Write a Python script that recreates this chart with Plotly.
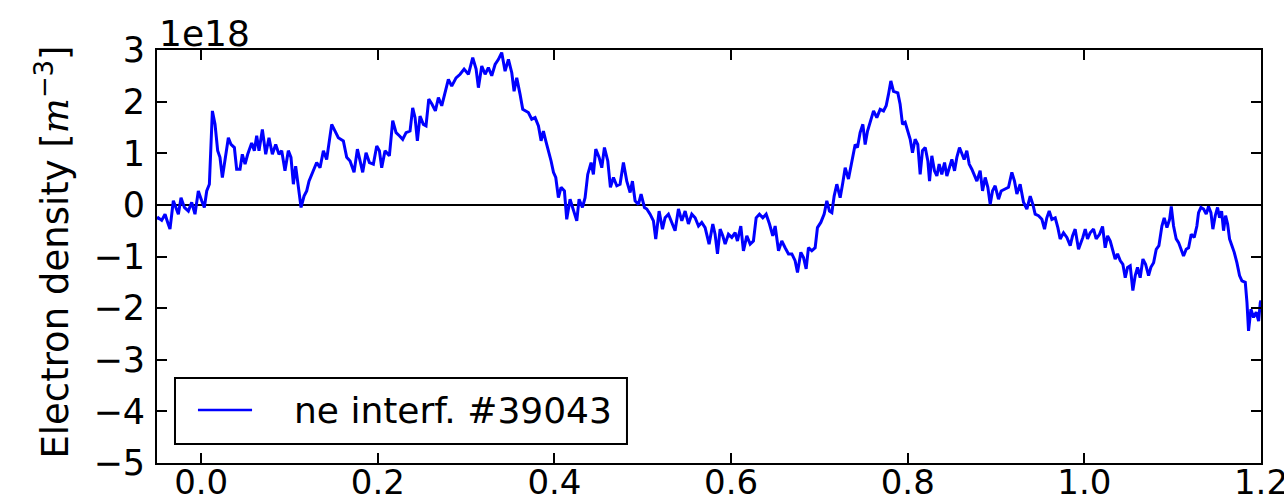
import plotly.graph_objects as go

# time axis (s) and electron density (units of 1e18 m^-3)
time_s = [
    -0.0500, -0.0485, -0.0447, -0.0409, -0.0379, -0.0353, -0.0315, -0.0289, -0.0258, -0.0228,
    -0.0190, -0.0145, -0.0107, -0.0070, -0.0032, 0.0006, 0.0036, 0.0063, 0.0093, 0.0127,
    0.0157, 0.0187, 0.0213, 0.0240, 0.0270, 0.0308, 0.0338, 0.0376, 0.0402, 0.0440,
    0.0466, 0.0497, 0.0527, 0.0572, 0.0602, 0.0629, 0.0655, 0.0693, 0.0731, 0.0768,
    0.0806, 0.0844, 0.0881, 0.0912, 0.0949, 0.0987, 0.1017, 0.1044, 0.1070, 0.1100,
    0.1131, 0.1165, 0.1195, 0.1221, 0.1259, 0.1308, 0.1346, 0.1384, 0.1421, 0.1448,
    0.1478, 0.1516, 0.1553,
    0.1610, 0.1648, 0.1686, 0.1731, 0.1769, 0.1799, 0.1829, 0.1867, 0.1905, 0.1950,
    0.1988, 0.2018, 0.2044, 0.2082, 0.2131, 0.2169, 0.2207, 0.2244, 0.2282, 0.2320,
    0.2365, 0.2395, 0.2422, 0.2448, 0.2478, 0.2516, 0.2546, 0.2577, 0.2614, 0.2652,
    0.2686, 0.2724, 0.2762, 0.2799, 0.2837, 0.2886, 0.2932, 0.2977, 0.3026, 0.3075,
    0.3113, 0.3139, 0.3177, 0.3215, 0.3252, 0.3290, 0.3328, 0.3366, 0.3403, 0.3441,
    0.3479, 0.3517, 0.3543, 0.3573, 0.3611, 0.3641,
    0.3705, 0.3743, 0.3781, 0.3819, 0.3849, 0.3875, 0.3902, 0.3932, 0.3962, 0.3989,
    0.4015, 0.4045, 0.4075, 0.4113, 0.4139, 0.4177, 0.4215, 0.4253, 0.4279, 0.4317,
    0.4347, 0.4377, 0.4415, 0.4441, 0.4468, 0.4506, 0.4536, 0.4566, 0.4604, 0.4634,
    0.4668, 0.4706, 0.4743, 0.4781, 0.4819, 0.4857, 0.4883, 0.4913, 0.4951, 0.4981,
    0.5019, 0.5046, 0.5083, 0.5121, 0.5147, 0.5185, 0.5223, 0.5253, 0.5291, 0.5329,
    0.5366, 0.5404, 0.5442, 0.5480, 0.5517, 0.5555, 0.5593, 0.5631, 0.5668, 0.5706,
    0.5751,
    0.5793, 0.5819, 0.5846, 0.5876, 0.5906, 0.5933, 0.5970, 0.6008, 0.6046, 0.6072,
    0.6110, 0.6140, 0.6178, 0.6216, 0.6253, 0.6284, 0.6321, 0.6359, 0.6397, 0.6435,
    0.6472, 0.6499, 0.6537, 0.6574, 0.6612, 0.6650, 0.6688, 0.6725, 0.6752, 0.6790,
    0.6820, 0.6850, 0.6876, 0.6914, 0.6952, 0.6978, 0.7016, 0.7054, 0.7084, 0.7114,
    0.7141, 0.7167, 0.7197, 0.7235, 0.7265, 0.7292, 0.7329, 0.7367, 0.7405, 0.7431,
    0.7461, 0.7492, 0.7518, 0.7545, 0.7582, 0.7613, 0.7650, 0.7688, 0.7726, 0.7756,
    0.7782, 0.7809, 0.7839,
    0.7888, 0.7914, 0.7941, 0.7971, 0.8001, 0.8028, 0.8054, 0.8084, 0.8114, 0.8141,
    0.8167, 0.8198, 0.8228, 0.8247, 0.8273, 0.8303, 0.8330, 0.8356, 0.8386, 0.8417,
    0.8443, 0.8473, 0.8500, 0.8530, 0.8556, 0.8586, 0.8613, 0.8639, 0.8669, 0.8696,
    0.8726, 0.8756, 0.8783, 0.8820, 0.8847, 0.8877, 0.8907, 0.8934, 0.8960, 0.8990,
    0.9028, 0.9058, 0.9096, 0.9141, 0.9179, 0.9209, 0.9236, 0.9273, 0.9311, 0.9349,
    0.9387, 0.9417, 0.9443, 0.9481, 0.9519, 0.9549, 0.9575, 0.9602, 0.9632, 0.9670,
    0.9700, 0.9726, 0.9764, 0.9802, 0.9840, 0.9866, 0.9896, 0.9934,
    0.9983, 1.0010, 1.0036, 1.0066, 1.0104, 1.0134, 1.0172, 1.0206, 1.0236, 1.0263,
    1.0293, 1.0323, 1.0349, 1.0376, 1.0406, 1.0436, 1.0463, 1.0489, 1.0519, 1.0549,
    1.0576, 1.0602, 1.0632, 1.0663, 1.0693, 1.0727, 1.0753, 1.0784, 1.0814, 1.0844,
    1.0878, 1.0904, 1.0935, 1.0965, 1.0984, 1.1010, 1.1040, 1.1067, 1.1093, 1.1123,
    1.1153, 1.1180, 1.1210, 1.1244, 1.1274, 1.1293, 1.1320, 1.1350, 1.1380, 1.1406,
    1.1433, 1.1455, 1.1482, 1.1508, 1.1531, 1.1554, 1.1576, 1.1599, 1.1622, 1.1644,
    1.1671, 1.1697, 1.1727, 1.1757, 1.1784, 1.1822, 1.1841, 1.1859, 1.1886, 1.1916,
    1.1946, 1.1973, 1.1992, 1.2000,
]

ne_1e18 = [
    -0.28, -0.25, -0.30, -0.18, -0.34, -0.47, 0.08, -0.05, -0.18, 0.14,
    -0.05, -0.12, 0.05, -0.18, 0.27, 0.08, -0.05, 0.27, 0.40, 1.82,
    1.56, 1.05, 0.92, 0.53, 0.85, 1.30, 1.17, 1.11, 0.69, 0.69,
    0.98, 0.79, 0.98, 1.20, 1.05, 1.34, 1.05, 1.46, 0.98, 1.30,
    0.98, 1.17, 0.98, 1.05, 0.66, 1.05, 0.92, 0.40, 0.75, 0.34,
    -0.05, 0.17, 0.27, 0.46, 0.63, 0.82, 0.72, 1.05, 0.88, 1.17,
    1.56, 1.43, 1.30,
    1.24, 0.92, 0.85, 0.63, 1.08, 0.88, 0.63, 1.01, 0.82, 0.79,
    1.14, 1.05, 0.72, 1.05, 0.95, 1.63, 1.40, 1.34, 1.27, 1.40,
    1.43, 1.88, 1.69, 1.24, 1.72, 1.56, 1.53, 2.05, 1.95, 1.82,
    2.08, 1.92, 2.20, 2.43, 2.30, 2.46, 2.53, 2.63, 2.53, 2.85,
    2.63, 2.27, 2.69, 2.53, 2.66, 2.50, 2.72, 2.82, 2.95, 2.59,
    2.82, 2.56, 2.20, 2.46, 2.14, 1.85,
    1.79, 1.66, 1.69, 1.53, 1.24, 1.43, 1.24, 1.05, 0.85, 0.63,
    0.53, 0.14, 0.34, 0.27, -0.28, 0.11, -0.08, -0.31, 0.11, -0.05,
    0.14, 0.59, 0.82, 0.59, 1.08, 0.92, 0.72, 1.11, 0.85, 0.34,
    0.53, 0.37, 0.40, 0.82, 0.46, 0.24, 0.46, 0.08, 0.01, 0.21,
    -0.05, -0.08, -0.18, -0.31, -0.66, -0.12, -0.47, -0.25, -0.18, -0.34,
    -0.50, -0.08, -0.31, -0.12, -0.37, -0.18, -0.25, -0.41, -0.34, -0.44,
    -0.76,
    -0.37, -0.57, -0.95, -0.47, -0.60, -0.76, -0.57, -0.63, -0.54, -0.70,
    -0.41, -0.89, -0.60, -0.76, -0.70, -0.25, -0.18, -0.25, -0.18, -0.37,
    -0.60, -0.41, -0.89, -0.70, -0.83, -0.95, -0.95, -1.08, -1.31, -0.92,
    -1.02, -1.24, -0.83, -0.89, -0.83, -0.44, -0.34, -0.18, 0.08, -0.12,
    -0.15, 0.17, 0.40, 0.14, 0.43, 0.72, 0.50, 0.85, 1.17, 1.11,
    1.40, 1.56, 1.17, 1.43, 1.66, 1.82, 1.69, 1.85, 1.82, 1.92,
    2.14, 2.40, 2.20,
    2.17, 1.95, 1.56, 1.60, 1.43, 1.27, 1.01, 1.27, 1.17, 0.59,
    1.05, 1.11, 0.85, 0.46, 0.95, 0.66, 0.56, 0.79, 0.59, 0.82,
    0.56, 0.72, 0.88, 0.66, 0.92, 1.11, 0.98, 0.88, 1.05, 0.79,
    0.69, 0.56, 0.46, 0.66, 0.27, 0.53, 0.34, 0.01, 0.27, 0.37,
    0.11, 0.27, 0.30, 0.34, 0.63, 0.46, 0.21, 0.40, 0.05, -0.08,
    0.17, 0.01, -0.18, -0.21, -0.28, -0.47, -0.25, -0.12, -0.28, -0.25,
    -0.44, -0.66, -0.54, -0.63, -0.79, -0.60, -0.47, -0.86,
    -0.63, -0.47, -0.66, -0.54, -0.47, -0.66, -0.57, -0.42, -0.83, -0.60,
    -0.70, -0.89, -1.05, -0.95, -1.08, -1.15, -1.41, -1.21, -1.18, -1.66,
    -1.37, -1.21, -1.41, -1.05, -1.15, -1.37, -1.21, -1.12, -0.86, -0.79,
    -0.41, -0.25, -0.44, -0.28, -0.03, -0.41, -0.66, -0.73, -0.86, -0.99,
    -0.86, -0.83, -0.57, -0.63, -0.41, -0.15, -0.05, -0.08, -0.18, -0.03,
    -0.15, -0.47, -0.21, -0.05, -0.25, -0.12, -0.50, -0.21, -0.37, -0.66,
    -0.79, -0.92, -1.12, -1.37, -1.47, -1.50, -1.89, -2.44, -2.02, -2.18,
    -2.08, -2.25, -1.89, -1.85,
]

x_ticks = [0.0, 0.2, 0.4, 0.6, 0.8, 1.0, 1.2]
x_ticklabels = ["0.0", "0.2", "0.4", "0.6", "0.8", "1.0", "1.2"]
y_ticks = [-5, -4, -3, -2, -1, 0, 1, 2, 3]
series_name = "ne interf. #39043"

FONT = "DejaVu Sans"
BLUE = "#0000ff"

fig = go.Figure()
fig.add_trace(go.Scatter(
    x=time_s, y=ne_1e18, mode="lines", name=series_name,
    line=dict(color=BLUE, width=3), showlegend=False,
))

axis_common = dict(
    showgrid=False, showline=True, linecolor="black", linewidth=2,
    mirror="ticks", ticks="inside", ticklen=10, tickwidth=1.5, tickcolor="black",
    automargin=False, ticklabeloverflow="allow",
)

fig.update_xaxes(range=[-0.05, 1.2], tickvals=x_ticks, ticktext=x_ticklabels,
                 zeroline=False, ticklabelstandoff=-12,
                 tickfont=dict(family=FONT, size=34, color="black"), **axis_common)
fig.update_yaxes(range=[-5, 3], tickvals=y_ticks, zeroline=True,
                 zerolinecolor="black", zerolinewidth=2, ticklabelstandoff=3,
                 tickfont=dict(family=FONT, size=35, color="black"), **axis_common)

# legend drawn as box + sample line + text (matplotlib-like lower-left legend)
fig.add_shape(type="rect", xref="x domain", yref="y domain",
              x0=0.0163, x1=0.4257, y0=0.046, y1=0.2058,
              line=dict(color="black", width=2), fillcolor="white", layer="above")
fig.add_shape(type="line", xref="x domain", yref="y domain",
              x0=0.0371, x1=0.0861, y0=0.1283, y1=0.1283,
              line=dict(color=BLUE, width=2.5), layer="above")
fig.add_annotation(xref="x domain", yref="y domain", x=0.1223, y=0.1283,
                   xanchor="left", yanchor="middle", text=series_name,
                   showarrow=False, font=dict(family=FONT, size=36, color="black"))

# offset label
fig.add_annotation(xref="paper", yref="paper", x=0.0, y=1.0, xanchor="left",
                   yanchor="bottom", text="1e18", showarrow=False, yshift=-6,
                   font=dict(family=FONT, size=36, color="black"))

# y-axis label
fig.add_annotation(xref="paper", yref="paper", x=-0.094, y=0.51, xanchor="center",
                   yanchor="middle", textangle=-90, showarrow=False,
                   text="Electron density [<span style=\"font-family:'DejaVu Serif'\"><i>m</i></span><sup>−3</sup>]",
                   font=dict(family=FONT, size=37, color="black"))

fig.update_layout(
    width=1284, height=504,
    margin=dict(l=157, r=23, t=50, b=41),
    paper_bgcolor="white", plot_bgcolor="white",
    font=dict(family=FONT, color="black"),
)

fig.write_html("out.html")
